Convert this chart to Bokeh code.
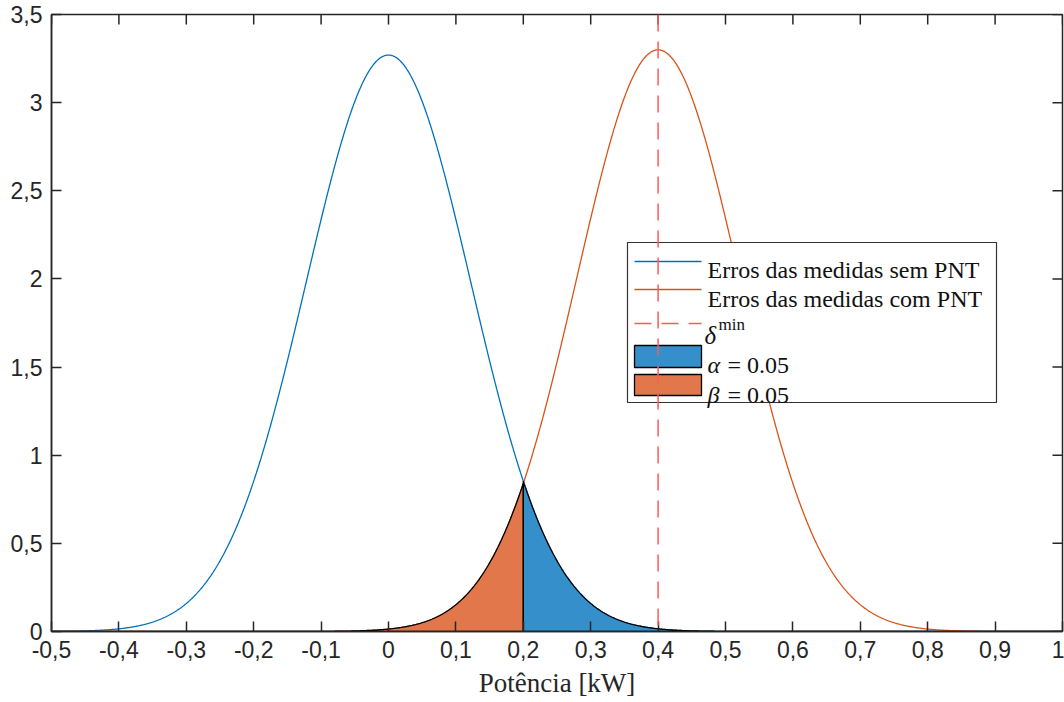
import numpy as np
from bokeh.plotting import figure
from bokeh.models import LinearAxis, FixedTicker, Range1d, Span
from bokeh.core.properties import value
from bokeh.embed import file_html
from bokeh.resources import INLINE

# Axis ticks and their labels (comma decimal separator)
x_ticks = [-0.5, -0.4, -0.3, -0.2, -0.1, 0.0, 0.1, 0.2, 0.3, 0.4, 0.5, 0.6, 0.7, 0.8, 0.9, 1.0]
x_tick_labels = ["-0,5", "-0,4", "-0,3", "-0,2", "-0,1", "0", "0,1", "0,2", "0,3", "0,4",
                 "0,5", "0,6", "0,7", "0,8", "0,9", "1"]
y_ticks = [0.0, 0.5, 1.0, 1.5, 2.0, 2.5, 3.0, 3.5]
y_tick_labels = ["0", "0,5", "1", "1,5", "2", "2,5", "3", "3,5"]

# Error distributions: without and with non-technical losses
series_names = ["Erros das medidas sem PNT", "Erros das medidas com PNT"]
series_means = [0.0, 0.4]
series_sigmas = [0.1220, 0.1209]
threshold = 0.2          # decision threshold
delta_min = 0.4          # minimum detectable deviation
alpha_level = 0.05
beta_level = 0.05

X0, X1 = -0.5, 1.0
Y0, Y1 = 0.0, 3.5

BLUE = "#0072BD"
ORANGE = "#D95319"
BLUE_FILL = "#358FCA"
ORANGE_FILL = "#E1774A"
AX = "#262626"


def normal_pdf(x, mu, sigma):
    return np.exp(-0.5 * ((x - mu) / sigma) ** 2) / (sigma * np.sqrt(2 * np.pi))


x = np.linspace(X0, X1, 1501)
pdf_sem = normal_pdf(x, series_means[0], series_sigmas[0])
pdf_com = normal_pdf(x, series_means[1], series_sigmas[1])

# frame geometry in pixels
FL, FR, FT, FB = 51, 1062, 14, 631
TICK_LEN = 10

p = figure(width=1064, height=702,
           x_range=Range1d(X0, X1), y_range=Range1d(Y0, Y1),
           output_backend="svg", toolbar_location=None,
           x_axis_location=None, y_axis_location=None,
           min_border_left=FL, min_border_right=1064 - FR,
           min_border_top=FT, min_border_bottom=702 - FB,
           background_fill_color="white", border_fill_color="white")
p.outline_line_color = AX
p.outline_line_width = 1.5
p.grid.visible = False


def make_axis(ticks, labels):
    ax = LinearAxis(ticker=FixedTicker(ticks=ticks))
    ax.major_label_overrides = {t: l for t, l in zip(ticks, labels)}
    ax.axis_line_color = AX
    ax.axis_line_width = 1.5
    ax.major_tick_line_color = AX
    ax.major_tick_line_width = 1.5
    ax.major_tick_in = TICK_LEN
    ax.major_tick_out = 0
    ax.minor_tick_line_color = None
    ax.major_label_text_font = "Liberation Sans"
    ax.major_label_text_color = AX
    ax.major_label_text_font_size = "23px"
    ax.major_label_standoff = 9
    return ax


xb = make_axis(x_ticks, x_tick_labels)
xb.axis_label = "Potência [kW]"
xb.axis_label_text_font = "Liberation Serif"
xb.axis_label_text_font_style = "normal"
xb.axis_label_text_font_size = "27px"
xb.axis_label_text_color = AX
xb.axis_label_standoff = 7
p.add_layout(xb, "below")

yl = make_axis(y_ticks, y_tick_labels)
p.add_layout(yl, "left")


# pixel <-> data helpers for the fixed frame
def px_x(px):
    return X0 + (px - FL) / (FR - FL) * (X1 - X0)


def px_y(py):
    return Y0 + (FB - py) / (FB - FT) * (Y1 - Y0)


dx_tick = px_x(FL + TICK_LEN) - X0
dy_tick = Y1 - px_y(FT + TICK_LEN)

# inward ticks on the top and right edges of the box
p.segment(x0=x_ticks, x1=x_ticks, y0=[Y1] * len(x_ticks), y1=[Y1 - dy_tick] * len(x_ticks),
          line_color=AX, line_width=1.5)
p.segment(x0=[X1] * len(y_ticks), x1=[X1 - dx_tick] * len(y_ticks), y0=y_ticks, y1=y_ticks,
          line_color=AX, line_width=1.5)

# density curves
p.line(x, pdf_sem, line_color=BLUE, line_width=1.3)
p.line(x, pdf_com, line_color=ORANGE, line_width=1.3)

# beta region: left tail of the "com PNT" curve, up to the threshold
left = x <= threshold
xb_reg = np.concatenate([x[left], [threshold, threshold, X0]])
yb_reg = np.concatenate([pdf_com[left],
                         [normal_pdf(threshold, series_means[1], series_sigmas[1]), 0.0, 0.0]])
p.patch(xb_reg, yb_reg, fill_color=ORANGE_FILL, line_color="black", line_width=1.3)

# alpha region: right tail of the "sem PNT" curve, beyond the threshold
right = x >= threshold
xa_reg = np.concatenate([[threshold, threshold], x[right], [X1]])
ya_reg = np.concatenate([[0.0, normal_pdf(threshold, series_means[0], series_sigmas[0])],
                         pdf_sem[right], [0.0]])
p.patch(xa_reg, ya_reg, fill_color=BLUE_FILL, line_color="black", line_width=1.3)

# minimum detectable deviation
p.add_layout(Span(location=delta_min, dimension="height", line_color="#ff5a5a",
                  line_width=1.5, line_dash="17 10"))

# ---- legend ----
SERIF = value("Liberation Serif")
p.quad(left=[px_x(627)], right=[px_x(996)], top=[px_y(242)], bottom=[px_y(402)],
       fill_color="white", line_color="#333333", line_width=1.2)

sx0, sx1 = px_x(634), px_x(701)
p.line([sx0, sx1], [px_y(261)] * 2, line_color=BLUE, line_width=1.3)
p.line([sx0, sx1], [px_y(289)] * 2, line_color=ORANGE, line_width=1.3)
p.line([sx0, sx1], [px_y(323)] * 2, line_color="#ff5a5a", line_width=1.5, line_dash="17 10")
p.quad(left=[sx0], right=[sx1], top=[px_y(345)], bottom=[px_y(367)],
       fill_color=BLUE_FILL, line_color="black", line_width=1.3)
p.quad(left=[sx0], right=[sx1], top=[px_y(374)], bottom=[px_y(395)],
       fill_color=ORANGE_FILL, line_color="black", line_width=1.3)

tx = px_x(707)
p.text(x=[tx, tx], y=[px_y(269), px_y(298)], text=series_names,
       text_font=SERIF, text_font_size="24px", text_baseline="alphabetic",
       text_align="left", text_color="#111111")
# delta with superscript
p.text(x=[px_x(704)], y=[px_y(335)], text=["δ"], text_font=SERIF, text_font_style="italic",
       text_font_size="25px", text_baseline="alphabetic", text_color="#111111")
p.text(x=[px_x(718)], y=[px_y(324)], text=["min"], text_font=SERIF,
       text_font_size="17px", text_baseline="alphabetic", text_color="#111111")
# alpha / beta entries
p.text(x=[tx, tx], y=[px_y(364), px_y(394)], text=["α", "β"], text_font=SERIF,
       text_font_style="italic", text_font_size="24px", text_baseline="alphabetic",
       text_color="#111111")
p.text(x=[px_x(727), px_x(727)], y=[px_y(364), px_y(394)],
       text=[f"= {alpha_level:.2f}", f"= {beta_level:.2f}"], text_font=SERIF,
       text_font_size="24px", text_baseline="alphabetic", text_color="#111111")

open("out.html", "w").write(file_html(p, INLINE))
